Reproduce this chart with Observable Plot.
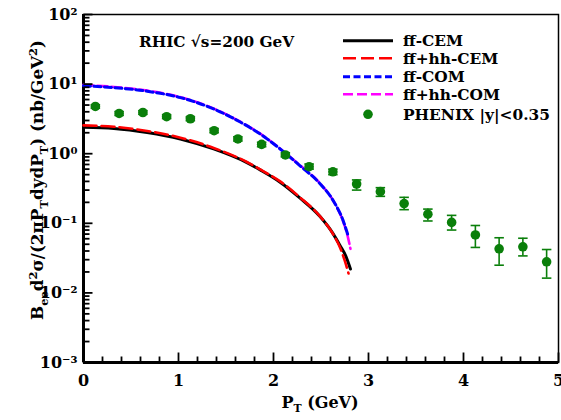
<!DOCTYPE html>
<html><head><meta charset="utf-8">
<script src="https://cdn.jsdelivr.net/npm/d3@7"></script>
<script src="https://cdn.jsdelivr.net/npm/@observablehq/plot@0.6"></script>
<style>html,body{margin:0;padding:0;background:#fff;}</style>
</head><body><div id="chart"></div>
<script>
// ---- data ----
const phenixPt = [0.125,0.375,0.625,0.875,1.125,1.375,1.625,1.875,2.125,2.375,2.625,2.875,3.125,3.375,3.625,3.875,4.125,4.375,4.625,4.875];
const phenixY  = [4.77,3.79,3.91,3.40,3.18,2.14,1.63,1.36,0.96,0.65,0.55,0.367,0.285,0.192,0.135,0.103,0.068,0.043,0.046,0.028];
const phenixLo = [4.50,3.55,3.68,3.20,2.98,2.00,1.52,1.26,0.90,0.60,0.50,0.30,0.244,0.157,0.108,0.080,0.045,0.025,0.034,0.0163];
const phenixHi = [5.05,4.03,4.15,3.62,3.38,2.29,1.75,1.46,1.03,0.71,0.60,0.42,0.325,0.236,0.160,0.130,0.093,0.062,0.061,0.042];

const cemPt   = [0,0.32,0.67,1.02,1.37,1.72,1.86,2.07,2.28,2.49,2.63,2.70,2.76,2.81];
const cemY    = [2.40,2.31,2.02,1.63,1.17,0.745,0.585,0.39,0.23,0.125,0.070,0.048,0.034,0.022];
const cemHhPt = [0,0.32,0.67,1.02,1.37,1.72,1.86,2.07,2.28,2.49,2.63,2.70,2.75,2.79];
const cemHhY  = [2.55,2.44,2.12,1.70,1.21,0.76,0.595,0.40,0.235,0.126,0.069,0.045,0.029,0.019];
const comPt   = [0,0.32,0.67,1.02,1.37,1.65,1.86,2.07,2.28,2.49,2.63,2.74,2.78];
const comY    = [9.45,8.9,7.9,6.4,4.4,2.85,1.92,1.17,0.67,0.37,0.21,0.103,0.07];
const comHhPt = [0,0.32,0.67,1.02,1.37,1.65,1.86,2.07,2.28,2.49,2.63,2.74,2.78,2.81];
const comHhY  = [9.75,9.1,8.05,6.5,4.45,2.88,1.94,1.18,0.68,0.375,0.21,0.100,0.066,0.043];

const xMajor = [0,1,2,3,4,5];
const xMinor = [0.2,0.4,0.6,0.8,1.2,1.4,1.6,1.8,2.2,2.4,2.6,2.8,3.2,3.4,3.6,3.8,4.2,4.4,4.6,4.8];
const yMajor = [1e-3,1e-2,1e-1,1,10,100];
const yMinor = [-3,-2,-1,0,1].flatMap(e=>[2,3,4,5,6,7,8,9].map(k=>k*Math.pow(10,e)));

const legendLabels = ["ff-CEM","ff+hh-CEM","ff-COM","ff+hh-COM","PHENIX |y|<0.35"];
const annotation = "RHIC \u221As=200 GeV";

// ---- tables ----
const phen = phenixPt.map((x,i)=>({x, y:phenixY[i], lo:phenixLo[i], hi:phenixHi[i]}));
const mk = (xs,ys)=>xs.map((x,i)=>({x, y:ys[i]}));
const cem = mk(cemPt,cemY), cemHh = mk(cemHhPt,cemHhY), com = mk(comPt,comY), comHh = mk(comHhPt,comHhY);

const GREEN = "#0a7f0a";
const sup = {"-":"\u207B","0":"\u2070","1":"\u00B9","2":"\u00B2","3":"\u00B3"};
const supFmt = v => "10" + String(Math.round(Math.log10(v))).split("").map(c=>sup[c]).join("");

const styles = [
  {stroke:"black", strokeWidth:3, dash:null},
  {stroke:"#ff0000", strokeWidth:2.6, dash:"13,5"},
  {stroke:"#0000ff", strokeWidth:3, dash:"7,3.5"},
  {stroke:"#ff00ff", strokeWidth:2.6, dash:"10,4"}
];

// inward tick lengths (px)
const xMajLen = 10, xMinLen = 6, yMajLen = 9, yMinLen = 6;
const W = 561, H = 420, ML = 83, MR = 3, MT = 14, MB = 58;
const pxPerX = (W - ML - MR) / 5, pxPerDec = (H - MT - MB) / 5;
const yUp = px => 1e-3 * Math.pow(10, px / pxPerDec);

const plot = Plot.plot({
  width: W, height: H,
  marginLeft: ML, marginRight: MR, marginTop: MT, marginBottom: MB,
  style: {fontFamily: "DejaVu Serif", fontWeight: "bold", fontSize: "16px", background: "white", overflow: "visible"},
  x: {domain: [0,5]},
  y: {type: "log", domain: [1e-3, 1e2]},
  marks: [
    Plot.frame({strokeWidth: 1.5, stroke: "black"}),
    Plot.axisX(xMajor, {tickSize: 0, tickPadding: 12, tickFormat: d=>String(d), label: null, fill: "black"}),
    Plot.axisY(yMajor, {tickSize: 0, tickPadding: 6, tickFormat: supFmt, label: null, fill: "black"}),
    Plot.ruleX([0], {strokeWidth: 3, stroke: "black"}),
    Plot.ruleY([1e-3], {strokeWidth: 3, stroke: "black"}),
    Plot.line(cem, {x:"x", y:"y", stroke: styles[0].stroke, strokeWidth: styles[0].strokeWidth, curve:"monotone-x"}),
    Plot.line(cemHh, {x:"x", y:"y", stroke: styles[1].stroke, strokeWidth: styles[1].strokeWidth, strokeDasharray: styles[1].dash, curve:"monotone-x"}),
    Plot.line(comHh, {x:"x", y:"y", stroke: styles[3].stroke, strokeWidth: styles[3].strokeWidth, strokeDasharray: styles[3].dash, curve:"monotone-x"}),
    Plot.line(com, {x:"x", y:"y", stroke: styles[2].stroke, strokeWidth: styles[2].strokeWidth, strokeDasharray: styles[2].dash, curve:"monotone-x"}),
    Plot.ruleX(phen, {x:"x", y1:"lo", y2:"hi", stroke: GREEN, strokeWidth: 1.6}),
    Plot.link(phen, {x1: d=>d.x-0.05, x2: d=>d.x+0.05, y1:"lo", y2:"lo", stroke: GREEN, strokeWidth: 1.6}),
    Plot.link(phen, {x1: d=>d.x-0.05, x2: d=>d.x+0.05, y1:"hi", y2:"hi", stroke: GREEN, strokeWidth: 1.6}),
    Plot.dot(phen, {x:"x", y:"y", r: 4.8, fill: GREEN, stroke: "none"}),
    // inward axis ticks
    Plot.link(xMajor, {x1: d=>d, x2: d=>d, y1: d=>1e-3, y2: d=>yUp(xMajLen), stroke: "#000", strokeWidth: 1.8}),
    Plot.link(xMinor, {x1: d=>d, x2: d=>d, y1: d=>1e-3, y2: d=>yUp(xMinLen), stroke: "#000", strokeWidth: 1.8}),
    Plot.link(yMajor, {x1: d=>0, x2: d=>yMajLen/pxPerX, y1: d=>d, y2: d=>d, stroke: "#000", strokeWidth: 1.8}),
    Plot.link(yMinor, {x1: d=>0, x2: d=>yMinLen/pxPerX, y1: d=>d, y2: d=>d, stroke: "#000", strokeWidth: 1.8})
  ]
});

const svg = d3.select(plot);
const FONT = "DejaVu Serif";

function rich(sel, parts, size) {
  let shift = 0;
  for (const [s, kind] of parts) {
    const target = kind === "sub" ? size*0.28 : kind === "sup" ? -size*0.38 : 0;
    sel.append("tspan").attr("dy", target - shift).attr("font-size", kind === "n" ? size : size*0.68).text(s);
    shift = target;
  }
}

// y label
const yl = svg.append("text").attr("transform","translate(43,180) rotate(-90)")
  .attr("text-anchor","middle").attr("font-family",FONT).attr("font-weight","bold").attr("fill","black");
rich(yl, [["B","n"],["ee","sub"],["d","n"],["2","sup"],["\u03C3/(2\u03C0P","n"],["T","sub"],["dydP","n"],["T","sub"],[") (nb/GeV","n"],["2","sup"],[")","n"]], 16.8);

// x label
const xl = svg.append("text").attr("x",320).attr("y",408)
  .attr("text-anchor","middle").attr("font-family",FONT).attr("font-weight","bold").attr("fill","black");
rich(xl, [["P","n"],["T","sub"],[" (GeV)","n"]], 16);

// annotation
svg.append("text").attr("x",139).attr("y",46.5).attr("text-anchor","start").attr("font-family",FONT).attr("font-weight","bold")
  .attr("font-size",15.3).attr("fill","black").text(annotation);

// legend
const rowsY = [40.7, 58.3, 76.7, 94.3, 114.3];
const lg = svg.append("g").attr("text-anchor","start");
legendLabels.forEach((lab,i)=>{
  const y = rowsY[i];
  if (i < 4) {
    const s = styles[i];
    lg.append("line").attr("x1",343).attr("x2",393).attr("y1",y).attr("y2",y)
      .attr("stroke",s.stroke).attr("stroke-width",s.strokeWidth).attr("stroke-dasharray",s.dash);
  } else {
    lg.append("circle").attr("cx",368).attr("cy",y).attr("r",4.8).attr("fill",GREEN);
  }
  lg.append("text").attr("x",403).attr("y",y+5.7).attr("text-anchor","start").attr("font-family",FONT).attr("font-weight","bold")
    .attr("font-size",15.4).attr("fill","black").text(lab);
});

document.getElementById("chart").appendChild(plot);
</script></body></html>
